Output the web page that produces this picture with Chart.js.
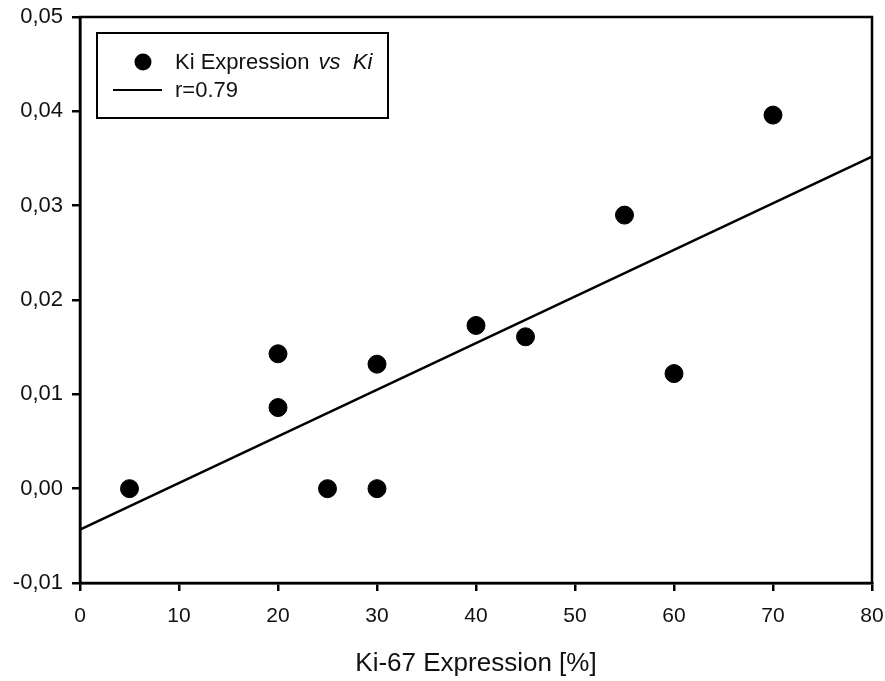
<!DOCTYPE html>
<html>
<head>
<meta charset="utf-8">
<script src="https://cdn.jsdelivr.net/npm/chart.js@4/dist/chart.umd.min.js"></script>
<style>
html,body{margin:0;padding:0;background:#fff;}
#wrap{width:885px;height:681px;position:relative;}
</style>
</head>
<body>
<div id="wrap"><canvas id="c" width="885" height="681"></canvas></div>
<script>
// Data
const ki67 = [5, 20, 20, 25, 30, 30, 40, 45, 55, 60, 70];
const kiValues = [0.0000, 0.0143, 0.0086, 0.0000, 0.0132, 0.0000, 0.0173, 0.0161, 0.0290, 0.0122, 0.0396];
const fitX = [0, 80];
const fitY = [-0.00435, 0.0352];
const xTicks = [0, 10, 20, 30, 40, 50, 60, 70, 80];
const yTicks = [-0.01, 0.00, 0.01, 0.02, 0.03, 0.04, 0.05];
const seriesLabel = 'Ki Expression';
const seriesLabelItalic = 'vs  Ki';
const fitLabel = 'r=0.79';
const xTitle = 'Ki-67 Expression [%]';

const FONT = "'Liberation Sans', Arial, sans-serif";

const scatterPts = ki67.map((x, i) => ({x: x, y: kiValues[i]}));
const fitPts = fitX.map((x, i) => ({x: x, y: fitY[i]}));

const framePlugin = {
  id: 'frame',
  afterDatasetsDraw(chart) {
    const {ctx, chartArea: a} = chart;
    ctx.save();
    ctx.strokeStyle = '#000';
    ctx.lineWidth = 2.5;
    ctx.strokeRect(a.left, a.top, a.right - a.left, a.bottom - a.top);
    ctx.restore();
  },
  afterDraw(chart) {
    const {ctx, chartArea: a} = chart;
    ctx.save();
    // legend box
    const bx = a.left + 17, by = a.top + 16, bw = 291, bh = 85;
    ctx.fillStyle = '#fff';
    ctx.fillRect(bx, by, bw, bh);
    ctx.strokeStyle = '#000';
    ctx.lineWidth = 2;
    ctx.strokeRect(bx, by, bw, bh);
    // marker
    ctx.fillStyle = '#000';
    ctx.beginPath();
    ctx.arc(bx + 46, by + 29, 8.5, 0, Math.PI * 2);
    ctx.fill();
    // line sample
    ctx.lineWidth = 2;
    ctx.beginPath();
    ctx.moveTo(bx + 16, by + 57);
    ctx.lineTo(bx + 65, by + 57);
    ctx.stroke();
    // text
    ctx.textBaseline = 'middle';
    ctx.textAlign = 'left';
    ctx.font = '22px ' + FONT;
    ctx.fillStyle = '#111';
    const tx = bx + 78;
    ctx.fillText(seriesLabel, tx, by + 30);
    const w = ctx.measureText(seriesLabel + ' ').width;
    ctx.font = 'italic 22px ' + FONT;
    ctx.fillText(seriesLabelItalic, tx + w + 3, by + 30);
    ctx.font = '22px ' + FONT;
    ctx.fillText(fitLabel, tx, by + 58);
    ctx.restore();
  }
};

new Chart(document.getElementById('c'), {
  type: 'scatter',
  data: {
    datasets: [
      {
        label: seriesLabel,
        data: scatterPts,
        backgroundColor: '#000',
        borderColor: '#000',
        pointRadius: 9,
        pointHoverRadius: 9,
        showLine: false
      },
      {
        label: fitLabel,
        type: 'line',
        data: fitPts,
        borderColor: '#000',
        borderWidth: 2.5,
        pointRadius: 0,
        fill: false,
        tension: 0
      }
    ]
  },
  options: {
    responsive: false,
    animation: false,
    events: [],
    layout: {padding: {left: 0, right: 13, top: 17, bottom: 0}},
    plugins: {
      legend: {display: false},
      tooltip: {enabled: false}
    },
    scales: {
      x: {
        type: 'linear',
        min: 0, max: 80,
        afterBuildTicks(scale) { scale.ticks = xTicks.map(v => ({value: v})); },
        afterFit(scale) { scale.height = 98; scale.paddingLeft = 0; scale.paddingRight = 0; },
        border: {display: true, color: '#000', width: 2.5},
        grid: {display: true, drawOnChartArea: false, drawTicks: true, tickLength: 8, color: '#000', lineWidth: 2.5},
        ticks: {
          color: '#111',
          font: {family: FONT, size: 21},
          padding: 13,
          maxRotation: 0,
          callback: v => String(v)
        },
        title: {
          display: true,
          text: xTitle,
          color: '#111',
          font: {family: FONT, size: 26},
          padding: {top: 6, bottom: 2}
        }
      },
      y: {
        type: 'linear',
        min: -0.01, max: 0.05,
        afterBuildTicks(scale) { scale.ticks = yTicks.map(v => ({value: v})); },
        afterFit(scale) { scale.width = 80; scale.paddingTop = 0; scale.paddingBottom = 0; },
        border: {display: true, color: '#000', width: 2.5},
        grid: {display: true, drawOnChartArea: false, drawTicks: true, tickLength: 8, color: '#000', lineWidth: 2.5},
        ticks: {
          color: '#111',
          font: {family: FONT, size: 22},
          padding: 9,
          callback: v => v.toFixed(2).replace('.', ',')
        }
      }
    }
  },
  plugins: [framePlugin]
});
</script>
</body>
</html>
